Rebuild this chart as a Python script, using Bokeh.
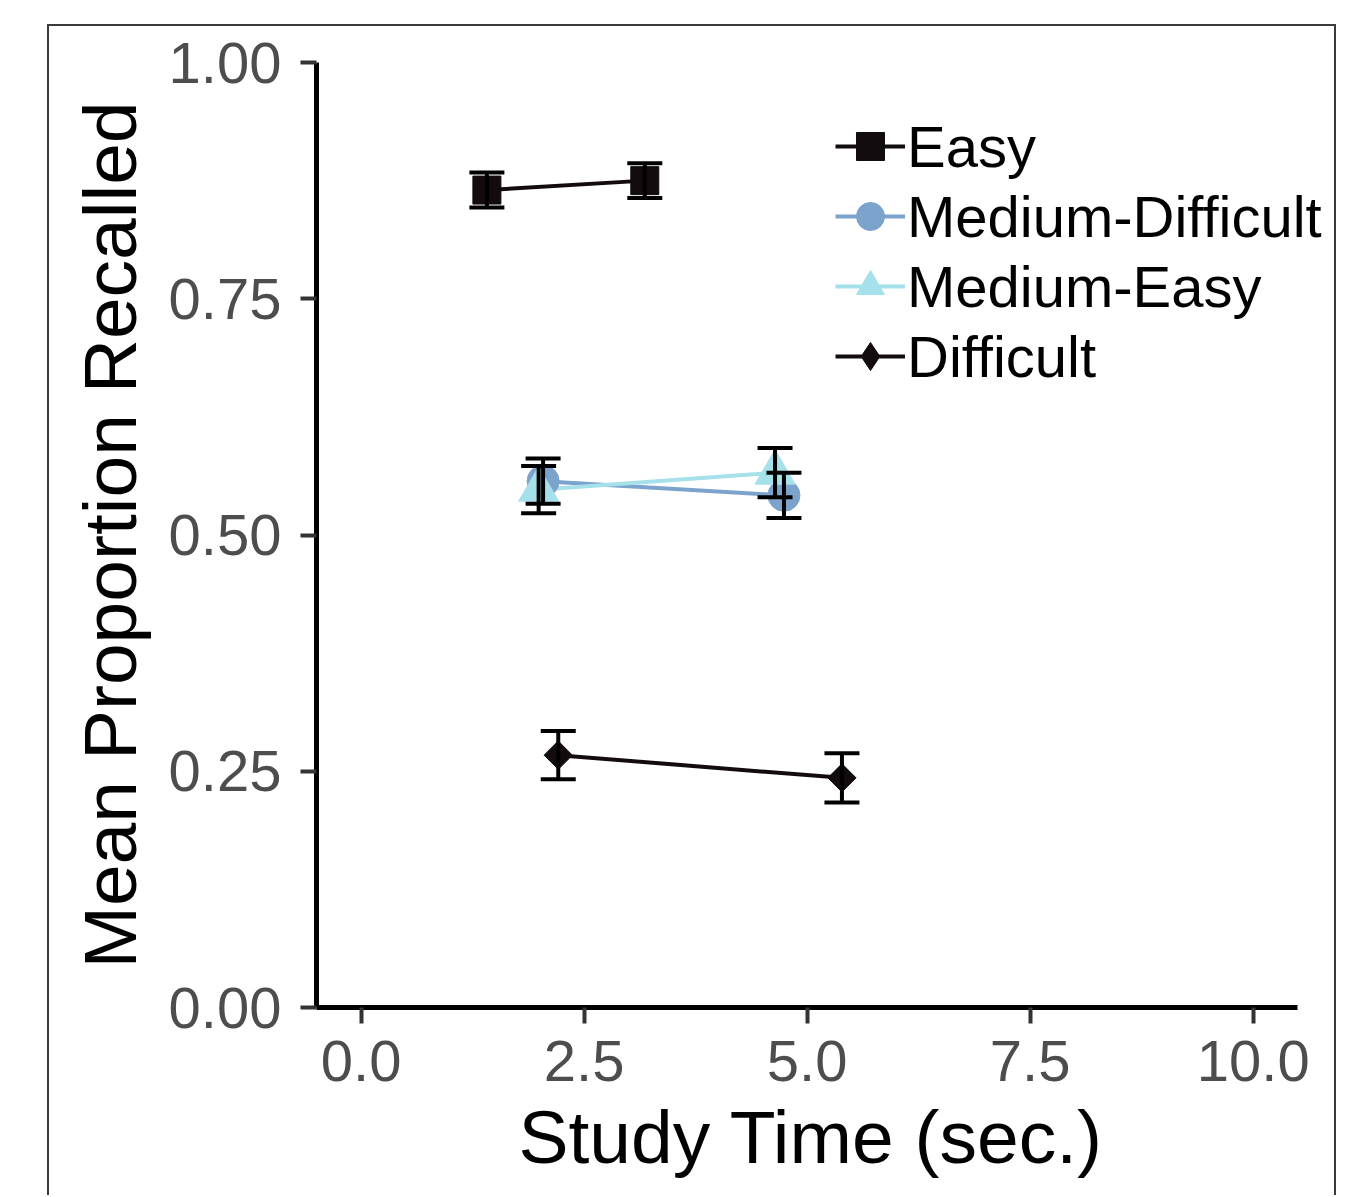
import numpy as np
from bokeh.plotting import figure
from bokeh.models import (Range1d, FixedTicker, NumeralTickFormatter, ColumnDataSource,
                          Whisker, TeeHead, Legend, LegendItem, Title)
from bokeh.embed import file_html
from bokeh.resources import INLINE

# ---- data ----
series_names = ["Easy", "Medium-Difficult", "Medium-Easy", "Difficult"]

easy_x = [1.41, 3.18]
easy_y = [0.865, 0.875]
easy_err = [0.0185, 0.0185]

meddiff_x = [2.04, 4.74]
meddiff_y = [0.557, 0.542]
meddiff_err = [0.024, 0.024]

medeasy_x = [1.99, 4.64]
medeasy_y = [0.548, 0.566]
medeasy_err = [0.025, 0.026]

diff_x = [2.21, 5.39]
diff_y = [0.267, 0.243]
diff_err = [0.0255, 0.026]

x_ticks = [0, 2.5, 5, 7.5, 10]
y_ticks = [0, 0.25, 0.5, 0.75, 1.0]

x_label = "Study Time (sec.)"
y_label = "Mean Proportion Recalled"

FONT = "Liberation Sans"

outer_box = {
    "background-image": "linear-gradient(#3a3a3a,#3a3a3a), linear-gradient(#3a3a3a,#3a3a3a), "
                        "linear-gradient(#3a3a3a,#3a3a3a)",
    "background-size": "1289px 2px, 2px 1300px, 2px 1300px",
    "background-position": "47px 24px, 47px 24px, 1334px 24px",
    "background-repeat": "no-repeat",
}

p = figure(width=1340, height=1195,
           x_range=Range1d(-0.5, 10.9), y_range=Range1d(0, 1),
           output_backend="svg", toolbar_location=None,
           min_border_left=316, min_border_right=7,
           min_border_top=62, min_border_bottom=188,
           styles=outer_box)
p.outline_line_color = None
p.xgrid.visible = False
p.ygrid.visible = False
p.background_fill_color = "white"
p.border_fill_color = None

# axes
for ax in (p.xaxis[0], p.yaxis[0]):
    ax.axis_line_color = "black"
    ax.axis_line_width = 5
    ax.major_tick_line_color = "#333333"
    ax.major_tick_line_width = 4
    ax.major_tick_out = 16
    ax.major_tick_in = 0
    ax.minor_tick_line_color = None
    ax.major_label_text_font = FONT
    ax.major_label_text_font_size = "58px"
    ax.major_label_text_color = "#4d4d4d"
    ax.axis_label_text_font = FONT
    ax.axis_label_text_font_size = "75px"
    ax.axis_label_text_font_style = "normal"
    ax.axis_label_text_color = "black"

p.xaxis.bounds = (-0.5, 10.5)
p.xaxis.ticker = FixedTicker(ticks=x_ticks)
p.yaxis.ticker = FixedTicker(ticks=y_ticks)
p.xaxis.formatter = NumeralTickFormatter(format="0.0")
p.yaxis.formatter = NumeralTickFormatter(format="0.00")
p.yaxis.axis_label = y_label
p.xaxis.major_label_standoff = 17
p.yaxis.major_label_standoff = 19
p.yaxis.axis_label_standoff = 14

# x-axis title, left-aligned so that it is centred under the axis line (not the wider frame)
xt = Title(text=x_label, align="left", offset=202, standoff=18,
           text_font=FONT, text_font_size="75px", text_font_style="normal",
           text_color="black")
p.add_layout(xt, "below")

dark = "#130c0e"
blue = "#7ca3cb"
light = "#a6e0eb"

specs = [
    ("Easy", easy_x, easy_y, easy_err, dark, "square", 28, 0.0),
    ("Medium-Difficult", meddiff_x, meddiff_y, meddiff_err, blue, "circle", 32, 0.0),
    ("Medium-Easy", medeasy_x, medeasy_y, medeasy_err, light, "triangle", 40, 0.0),
    ("Difficult", diff_x, diff_y, diff_err, dark, "square", 20, np.pi / 4),
]

sources = []
line_rs = []
for name, xs, ys, es, col, mk, sz, ang in specs:
    src = ColumnDataSource(dict(x=xs, y=ys,
                                upper=[y + e for y, e in zip(ys, es)],
                                lower=[y - e for y, e in zip(ys, es)]))
    sources.append(src)
    line_rs.append(p.line("x", "y", source=src, line_color=col, line_width=4))

# diamond drawn under the rotated squares of "Difficult"; it supplies the legend key
# (legend keys ignore marker rotation)
diamond_key = p.scatter("x", "y", source=sources[3], marker="diamond", size=28,
                        fill_color=dark, line_color=dark)

marker_rs = []
for (name, xs, ys, es, col, mk, sz, ang), src in zip(specs, sources):
    marker_rs.append(p.scatter("x", "y", source=src, marker=mk, size=sz, angle=ang,
                               fill_color=col, line_color=col, line_width=1))

legend_markers = marker_rs[:3] + [diamond_key]

for src in sources:
    w = Whisker(base="x", upper="upper", lower="lower", source=src, dimension="height",
                line_color="black", line_width=4, level="overlay",
                upper_head=TeeHead(size=35, line_color="black", line_width=4),
                lower_head=TeeHead(size=35, line_color="black", line_width=4))
    p.add_layout(w)

items = [LegendItem(label=n, renderers=[lr, mr])
         for n, lr, mr in zip(series_names, line_rs, legend_markers)]
legend = Legend(items=items, location=(519, 616), orientation="vertical",
                glyph_width=70, glyph_height=70, label_height=70, spacing=0,
                label_standoff=2, padding=0, margin=0,
                label_text_font=FONT, label_text_font_size="58px",
                label_text_color="black", label_text_baseline="middle",
                background_fill_alpha=0, border_line_alpha=0)
p.add_layout(legend, "center")

open("out.html", "w").write(file_html(p, INLINE))
